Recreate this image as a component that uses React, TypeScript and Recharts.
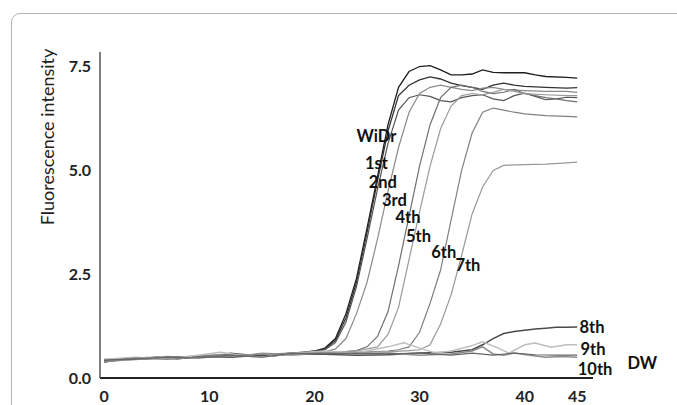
import React from "react";
import { LineChart, Line, XAxis, YAxis, ReferenceDot } from "recharts";

// cycle / fluorescence pairs
const widr = [[0,0.38],[1,0.42],[3,0.47],[5,0.5],[7,0.46],[9,0.52],[11,0.55],[13,0.54],[15,0.57],[17,0.58],[19,0.62],[20,0.65],[21,0.72],[22,0.95],[23,1.55],[24,2.4],[25,3.6],[26,4.85],[27,6.1],[28,7.0],[29,7.38],[30,7.5],[31,7.52],[32,7.42],[33,7.3],[34,7.3],[35,7.32],[36,7.42],[37,7.36],[38,7.35],[40,7.35],[41,7.3],[42,7.26],[44,7.24],[45,7.22]];
const first = [[0,0.42],[2,0.45],[4,0.48],[6,0.5],[8,0.49],[10,0.53],[12,0.52],[14,0.56],[16,0.58],[18,0.6],[20,0.64],[21,0.7],[22,0.9],[23,1.45],[24,2.3],[25,3.5],[26,4.75],[27,5.95],[28,6.8],[29,7.05],[30,7.18],[31,7.25],[32,7.2],[33,7.1],[34,7.04],[35,7.0],[36,6.95],[37,7.05],[38,7.1],[39,7.05],[40,7.02],[42,7.0],[44,6.98],[45,6.99]];
const second = [[0,0.45],[2,0.44],[4,0.5],[6,0.47],[8,0.52],[10,0.5],[12,0.6],[14,0.55],[16,0.52],[18,0.6],[20,0.62],[21,0.68],[22,0.85],[23,1.35],[24,2.2],[25,3.35],[26,4.55],[27,5.65],[28,6.45],[29,6.75],[30,6.82],[31,6.78],[32,6.68],[33,6.65],[34,6.75],[35,6.8],[36,6.82],[37,6.72],[38,6.68],[39,6.8],[40,6.86],[41,6.78],[42,6.7],[43,6.72],[44,6.76],[45,6.75]];
const third = [[0,0.4],[2,0.46],[4,0.45],[6,0.52],[8,0.5],[10,0.55],[12,0.57],[14,0.53],[16,0.58],[18,0.58],[20,0.6],[21,0.63],[22,0.7],[23,0.95],[24,1.55],[25,2.3],[26,3.35],[27,4.5],[28,5.55],[29,6.4],[30,6.85],[31,7.0],[32,7.05],[33,7.0],[34,6.95],[35,6.92],[36,6.98],[37,7.0],[38,6.95],[40,6.92],[42,6.9],[44,6.9],[45,6.88]];
const fourth = [[0,0.44],[3,0.48],[6,0.5],[9,0.5],[12,0.56],[15,0.55],[18,0.6],[20,0.6],[22,0.62],[24,0.66],[25,0.75],[26,1.0],[27,1.6],[28,2.7],[29,3.9],[30,5.1],[31,6.1],[32,6.75],[33,7.0],[34,7.05],[35,7.0],[36,6.9],[37,6.85],[38,6.88],[39,6.95],[40,6.85],[41,6.8],[42,6.75],[43,6.72],[44,6.68],[45,6.65]];
const fifth = [[0,0.4],[3,0.45],[6,0.48],[9,0.53],[12,0.5],[15,0.6],[18,0.57],[20,0.6],[22,0.62],[24,0.65],[26,0.75],[27,1.05],[28,1.7],[29,2.85],[30,4.0],[31,5.1],[32,6.0],[33,6.55],[34,6.8],[35,6.85],[36,6.82],[37,6.88],[38,6.95],[39,6.9],[40,6.85],[42,6.82],[44,6.8],[45,6.8]];
const sixth = [[0,0.42],[3,0.46],[6,0.5],[9,0.52],[12,0.55],[15,0.52],[18,0.58],[21,0.6],[24,0.62],[27,0.65],[28,0.68],[29,0.75],[30,1.1],[31,1.8],[32,2.6],[33,3.8],[34,5.0],[35,5.9],[36,6.4],[37,6.5],[38,6.45],[39,6.4],[40,6.36],[42,6.32],[44,6.3],[45,6.29]];
const seventh = [[0,0.4],[3,0.44],[6,0.5],[9,0.5],[12,0.54],[15,0.56],[18,0.55],[21,0.6],[24,0.62],[27,0.63],[29,0.66],[30,0.68],[31,0.8],[32,1.3],[33,2.0],[34,2.95],[35,3.95],[36,4.6],[37,5.0],[38,5.12],[40,5.14],[42,5.15],[44,5.18],[45,5.2]];
const eighth = [[0,0.42],[3,0.47],[6,0.48],[9,0.52],[12,0.5],[15,0.55],[18,0.58],[21,0.57],[24,0.55],[27,0.56],[30,0.6],[33,0.62],[35,0.68],[36,0.8],[37,0.95],[38,1.07],[39,1.12],[40,1.15],[41,1.18],[42,1.2],[43,1.22],[44,1.22],[45,1.23]];
const ninth = [[0,0.45],[3,0.5],[6,0.46],[9,0.55],[11,0.62],[13,0.55],[15,0.5],[18,0.6],[21,0.65],[24,0.6],[27,0.75],[28.5,0.85],[30,0.72],[31.5,0.6],[33,0.65],[35,0.78],[36,0.87],[37.5,0.72],[38.5,0.6],[40,0.8],[41,0.84],[42.5,0.74],[44,0.8],[45,0.8]];
const tenth = [[0,0.4],[3,0.48],[6,0.45],[9,0.5],[12,0.52],[15,0.58],[18,0.56],[21,0.6],[24,0.58],[27,0.6],[30,0.55],[33,0.58],[35,0.65],[36,0.75],[37,0.58],[38,0.55],[39,0.6],[40.5,0.55],[42,0.5],[43.5,0.52],[45,0.5]];
const dw = [[0,0.43],[3,0.46],[6,0.5],[9,0.48],[12,0.55],[15,0.5],[18,0.6],[21,0.58],[24,0.6],[27,0.58],[30,0.6],[33,0.55],[35,0.6],[37,0.55],[39,0.6],[41,0.56],[43,0.55],[45,0.55]];

const xTicks = [0, 10, 20, 30, 40, 45];
const yTicks = [0, 2.5, 5, 7.5];

// label anchors (cycle, intensity)
const labelAnchors = [
  { text: "WiDr", x: 25.9, y: 5.83 },
  { text: "1st", x: 25.9, y: 5.18 },
  { text: "2nd", x: 26.5, y: 4.72 },
  { text: "3rd", x: 27.6, y: 4.29 },
  { text: "4th", x: 28.9, y: 3.88 },
  { text: "5th", x: 29.9, y: 3.42 },
  { text: "6th", x: 32.3, y: 3.04 },
  { text: "7th", x: 34.6, y: 2.72 },
  { text: "8th", x: 46.4, y: 1.23 },
  { text: "9th", x: 46.5, y: 0.7 },
  { text: "10th", x: 46.7, y: 0.22 },
  { text: "DW", x: 51.2, y: 0.36 },
];

const series = [
  { name: "WiDr", points: widr, color: "#1e1e1e", width: 1.3 },
  { name: "1st", points: first, color: "#333333", width: 1.3 },
  { name: "2nd", points: second, color: "#555555", width: 1.2 },
  { name: "3rd", points: third, color: "#8a8a8a", width: 1.2 },
  { name: "4th", points: fourth, color: "#707070", width: 1.2 },
  { name: "5th", points: fifth, color: "#9a9a9a", width: 1.2 },
  { name: "6th", points: sixth, color: "#808080", width: 1.2 },
  { name: "7th", points: seventh, color: "#999999", width: 1.2 },
  { name: "8th", points: eighth, color: "#4a4a4a", width: 1.5 },
  { name: "9th", points: ninth, color: "#bdbdbd", width: 1.5 },
  { name: "10th", points: tenth, color: "#8c8c8c", width: 1.5 },
  { name: "DW", points: dw, color: "#666666", width: 1.2 },
];

const font = "Lato, 'Open Sans', sans-serif";

export default function App() {
  return (
    <div
      style={{
        position: "fixed",
        left: 0,
        top: 0,
        width: 677,
        height: 405,
        overflow: "hidden",
        background: "#fff",
        fontFamily: font,
      }}
    >
      <div
        style={{
          position: "absolute",
          left: 11,
          top: 13,
          width: 700,
          height: 430,
          border: "1px solid #b5b5b5",
          borderRadius: 9,
        }}
      />
      <div
        style={{
          position: "absolute",
          left: 47,
          top: 137,
          transform: "translate(-50%, -50%) rotate(-90deg)",
          whiteSpace: "nowrap",
          fontSize: 18,
          color: "#222",
        }}
      >
        Fluorescence intensity
      </div>
      <div style={{ position: "absolute", left: 0, top: 0 }}>
        <LineChart width={677} height={405} margin={{ top: 52, right: 84, bottom: 0, left: 40 }}>
          <XAxis
            type="number"
            dataKey="x"
            domain={[-0.4, 46.5]}
            ticks={xTicks}
            allowDataOverflow
            axisLine={{ stroke: "#222", strokeWidth: 2 }}
            tickLine={false}
            tickSize={0}
            tickMargin={13}
            height={27}
            tick={{ fontSize: 16, fontWeight: 700, fill: "#222", fontFamily: font }}
          />
          <YAxis
            type="number"
            domain={[0, 7.85]}
            ticks={yTicks}
            allowDataOverflow
            width={60}
            axisLine={{ stroke: "#555", strokeWidth: 1.5 }}
            tickLine={false}
            tickSize={0}
            tickMargin={9}
            tickFormatter={(v: number) => v.toFixed(1)}
            tick={{ fontSize: 16, fontWeight: 700, fill: "#222", fontFamily: font }}
          />
          {series.map((s) => (
            <Line
              key={s.name}
              data={s.points.map(([x, y]) => ({ x, y }))}
              dataKey="y"
              type="linear"
              stroke={s.color}
              strokeWidth={s.width}
              dot={false}
              activeDot={false}
              isAnimationActive={false}
            />
          ))}
          {labelAnchors.map((l) => (
            <ReferenceDot
              key={l.text}
              x={l.x}
              y={l.y}
              r={0}
              fill="none"
              stroke="none"
              ifOverflow="visible"
              label={{
                value: l.text,
                position: "center",
                fill: "#111",
                fontSize: 16.5,
                fontWeight: 700,
                fontFamily: font,
              }}
            />
          ))}
        </LineChart>
      </div>
    </div>
  );
}
